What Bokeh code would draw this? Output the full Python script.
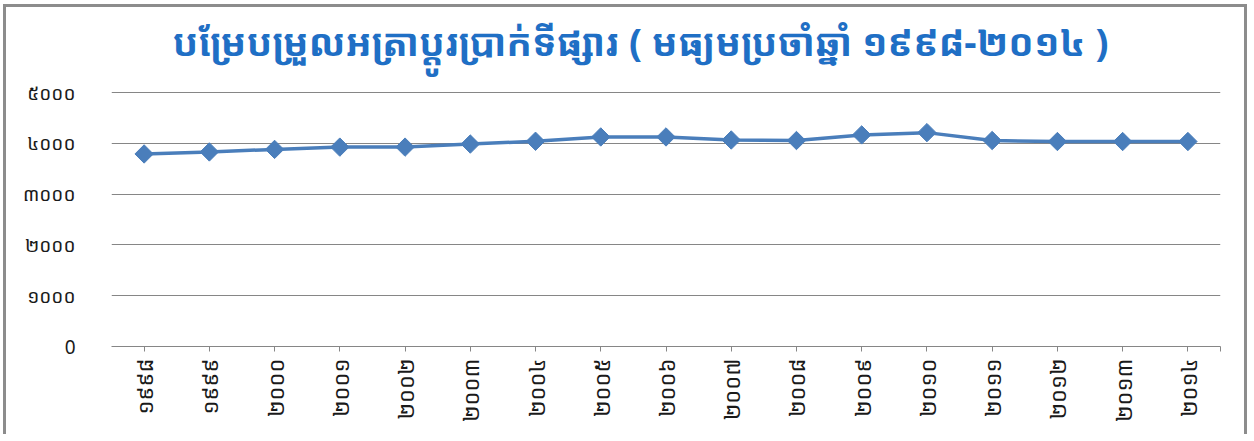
import math
from bokeh.plotting import figure
from bokeh.models import FixedTicker, Range1d, Label
from bokeh.embed import file_html
from bokeh.resources import INLINE

KHMER_FONT = "'Khmer OS', 'Noto Sans Khmer', 'Khmer OS System', 'Noto Sans', 'DejaVu Sans', sans-serif"

years = ["១៩៩៨", "១៩៩៩", "២០០០", "២០០១", "២០០២", "២០០៣", "២០០៤", "២០០៥", "២០០៦",
         "២០០៧", "២០០៨", "២០០៩", "២០១០", "២០១១", "២០១២", "២០១៣", "២០១៤"]
values = [3790, 3830, 3880, 3925, 3925, 3985, 4040, 4125, 4125,
          4065, 4055, 4165, 4210, 4055, 4035, 4035, 4035]
y_ticks = [0, 1000, 2000, 3000, 4000, 5000]
y_tick_labels = ["0", "១០០០", "២០០០", "៣០០០", "៤០០០", "៥០០០"]
title_text = "បម្រែបម្រួលអត្រាប្តូរប្រាក់ទីផ្សារ ( មធ្យមប្រចាំឆ្នាំ ១៩៩៨-២០១៤ )"

xs = list(range(len(years)))

# frame spans canvas y 5..339; the 0..5000 band occupies the lower 254 px,
# leaving the top of the frame free for the title
p = figure(width=1244, height=430, output_backend="svg", toolbar_location=None,
           x_range=Range1d(-0.5, len(years) - 0.5), y_range=Range1d(0, 5000 * 334 / 254),
           min_border_left=105, min_border_right=30, min_border_top=5, min_border_bottom=91)

title = Label(x=61, y=306, x_units="screen", y_units="screen", text=title_text,
              text_align="left", text_baseline="middle", text_font=KHMER_FONT,
              text_font_size="38px", text_font_style="bold", text_color="#1F6FC5")
p.add_layout(title)

p.line(xs, values, line_color="#4A7EBB", line_width=3.5)
p.scatter(xs, values, marker="square", size=13, angle=math.pi / 4,
          fill_color="#4A7EBB", line_color="#4A7EBB")

p.outline_line_color = None
p.background_fill_color = "white"
p.border_fill_color = "white"

# y axis
p.yaxis.ticker = FixedTicker(ticks=y_ticks)
p.yaxis.major_label_overrides = {t: l for t, l in zip(y_ticks, y_tick_labels)}
p.yaxis.axis_line_color = None
p.yaxis.major_tick_line_color = None
p.yaxis.minor_tick_line_color = None
p.yaxis.major_label_text_font = KHMER_FONT
p.yaxis.major_label_text_font_size = "19px"
p.yaxis.major_label_text_color = "#1a1a1a"
p.yaxis.major_label_standoff = 30

# x axis
x_ticks = xs + [len(years) - 0.5]
p.xaxis.ticker = FixedTicker(ticks=x_ticks)
overrides = {i: y for i, y in enumerate(years)}
overrides[len(years) - 0.5] = ""
p.xaxis.major_label_overrides = overrides
p.xaxis.major_label_orientation = math.pi / 2
p.xaxis.axis_line_color = "#868686"
p.xaxis.major_tick_line_color = "#868686"
p.xaxis.major_tick_in = 0
p.xaxis.major_tick_out = 5
p.xaxis.minor_tick_line_color = None
p.xaxis.major_label_text_font = KHMER_FONT
p.xaxis.major_label_text_font_size = "22px"
p.xaxis.major_label_text_color = "#1a1a1a"
p.xaxis.major_label_standoff = 7

p.xgrid.grid_line_color = None
p.ygrid.ticker = FixedTicker(ticks=y_ticks)
p.ygrid.grid_line_color = "#868686"
p.ygrid.grid_line_width = 1

p.styles = {"border-left": "3px solid #8C8C8C", "border-top": "3px solid #8C8C8C",
            "border-right": "3px solid #8C8C8C", "margin-left": "3px", "margin-top": "4px"}

open("out.html", "w").write(file_html(p, INLINE))
